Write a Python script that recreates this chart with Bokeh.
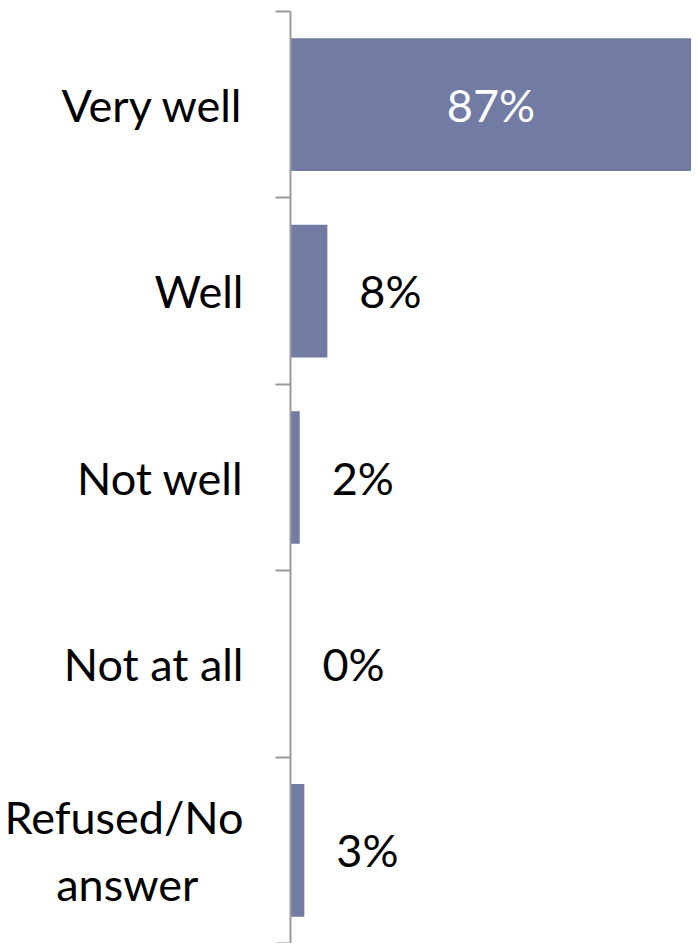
from bokeh.plotting import figure
from bokeh.models import ColumnDataSource, Range1d, FixedTicker
from bokeh.core.properties import value
from bokeh.embed import file_html
from bokeh.resources import INLINE

categories = ["Very well", "Well", "Not well", "Not at all", "Refused/No\nanswer\u00a0\u00a0\u00a0\u00a0"]
percentages = [87, 8, 2, 0, 3]
value_labels = ["87%", "8%", "2%", "0%", "3%"]

FONT = "Lato"
BAR_COLOR = "#717BA3"
FS = "45px"

n = len(categories)
centers = [i + 0.5 for i in range(n)]

inside = dict(x=[], y=[], t=[])
outside = dict(x=[], y=[], t=[])
for v, c, t in zip(percentages, centers, value_labels):
    if v > 50:
        inside["x"].append(v / 2); inside["y"].append(c); inside["t"].append(t)
    else:
        outside["x"].append(v); outside["y"].append(c); outside["t"].append(t)

p = figure(width=691, height=943, output_backend="svg", toolbar_location=None,
           x_range=Range1d(0, 87), y_range=Range1d(n, 0),
           min_border_left=290, min_border_right=0, min_border_top=11, min_border_bottom=0)

p.hbar(y=centers, right=percentages, left=0, height=0.712, color=BAR_COLOR, line_color=None)

p.text(x="x", y="y", text="t", source=ColumnDataSource(inside), text_color="white",
       text_align="center", text_baseline="middle", text_font=value(FONT), text_font_size=FS)
p.text(x="x", y="y", text="t", source=ColumnDataSource(outside), text_color="black",
       text_align="left", text_baseline="middle", x_offset=32, text_font=value(FONT), text_font_size=FS)

p.xaxis.visible = False
p.xgrid.visible = False
p.ygrid.visible = False
p.outline_line_color = None

ax = p.yaxis[0]
ax.ticker = FixedTicker(ticks=centers, minor_ticks=list(range(n + 1)))
ax.major_label_overrides = {c: lab for c, lab in zip(centers, categories)}
ax.major_tick_out = 0
ax.major_tick_in = 0
ax.minor_tick_out = 15
ax.minor_tick_in = 0
ax.minor_tick_line_color = "#9a9a9a"
ax.minor_tick_line_width = 2
ax.axis_line_color = "#9a9a9a"
ax.axis_line_width = 2
ax.major_label_standoff = 32
ax.major_label_text_font = FONT
ax.major_label_text_font_size = FS
ax.major_label_text_color = "black"
ax.major_label_text_line_height = 1.25

open("out.html", "w").write(file_html(p, INLINE))
